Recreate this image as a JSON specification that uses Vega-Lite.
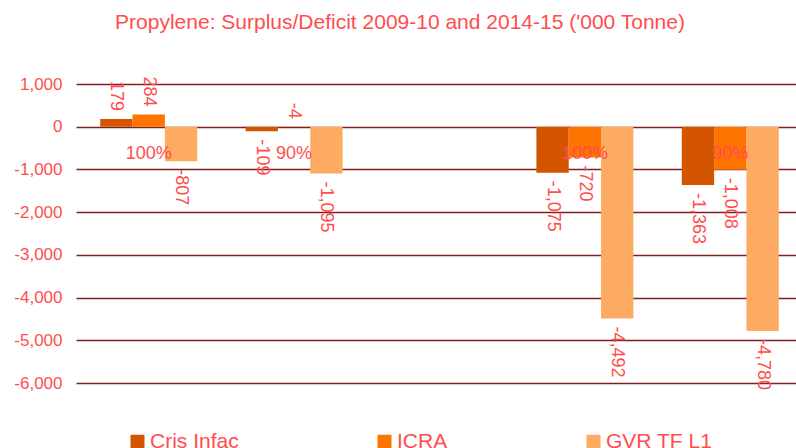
{
  "$schema": "https://vega.github.io/schema/vega-lite/v6.json",
  "width": 720,
  "height": 299,
  "autosize": {"type": "none"},
  "padding": {"left": 76, "top": 84, "right": 0, "bottom": 65},
  "background": "white",
  "config": {
    "view": {"stroke": null},
    "font": "Liberation Sans",
    "locale": {"number": {"decimal": ".", "thousands": ",", "grouping": [3], "currency": ["$", ""], "minus": "-"}}
  },
  "title": {
    "text": "Propylene: Surplus/Deficit 2009-10 and 2014-15 ('000 Tonne)",
    "fontSize": 21,
    "font": "Liberation Sans",
    "fontWeight": "normal",
    "color": "#FF4D4D",
    "anchor": "middle",
    "dx": -36,
    "offset": 42
  },
  "data": {
    "values": [
      {"cat": "2009-10 100%", "source": "Cris Infac", "value": 179},
      {"cat": "2009-10 100%", "source": "ICRA", "value": 284},
      {"cat": "2009-10 100%", "source": "GVR TF L1", "value": -807},
      {"cat": "2009-10 90%", "source": "Cris Infac", "value": -109},
      {"cat": "2009-10 90%", "source": "ICRA", "value": -4},
      {"cat": "2009-10 90%", "source": "GVR TF L1", "value": -1095},
      {"cat": "2014-15 100%", "source": "Cris Infac", "value": -1075},
      {"cat": "2014-15 100%", "source": "ICRA", "value": -720},
      {"cat": "2014-15 100%", "source": "GVR TF L1", "value": -4492},
      {"cat": "2014-15 90%", "source": "Cris Infac", "value": -1363},
      {"cat": "2014-15 90%", "source": "ICRA", "value": -1008},
      {"cat": "2014-15 90%", "source": "GVR TF L1", "value": -4780}
    ]
  },
  "encoding": {
    "x": {
      "field": "cat",
      "type": "nominal",
      "scale": {
        "domain": ["2009-10 100%", "2009-10 90%", "gap", "2014-15 100%", "2014-15 90%"],
        "range": [0, 727],
        "paddingInner": 0.333,
        "paddingOuter": 0.1667
      },
      "axis": {
        "title": null,
        "orient": "bottom",
        "offset": -256,
        "domain": false,
        "ticks": false,
        "grid": false,
        "labelAngle": 0,
        "labelPadding": 17,
        "labelFontSize": 18,
        "labelFont": "Liberation Sans",
        "labelColor": "#FF4D4D",
        "zindex": 1,
        "labelExpr": "datum.label == 'gap' ? '' : split(datum.label, ' ')[1]"
      }
    },
    "xOffset": {
      "field": "source",
      "type": "nominal",
      "scale": {"domain": ["Cris Infac", "ICRA", "GVR TF L1"], "paddingInner": 0, "paddingOuter": 0}
    },
    "y": {
      "field": "value",
      "type": "quantitative",
      "scale": {"domain": [-6000, 1000], "nice": false},
      "axis": {
        "title": null,
        "values": [-6000, -5000, -4000, -3000, -2000, -1000, 0, 1000],
        "format": ",.0f",
        "domain": false,
        "ticks": false,
        "labelPadding": 14,
        "labelFontSize": 17,
        "labelFont": "Liberation Sans",
        "labelColor": "#FF4D4D",
        "grid": true,
        "gridColor": "#7F1F22",
        "gridWidth": 1.5,
        "gridOpacity": 1
      }
    }
  },
  "layer": [
    {
      "mark": {"type": "bar"},
      "encoding": {
        "color": {
          "field": "source",
          "type": "nominal",
          "scale": {"domain": ["Cris Infac", "ICRA", "GVR TF L1"], "range": ["#D45500", "#FF7400", "#FDAA63"]},
          "legend": {
            "orient": "none",
            "legendX": 51,
            "legendY": 347,
            "direction": "horizontal",
            "title": null,
            "symbolType": "square",
            "symbolSize": 196,
            "symbolStrokeWidth": 0,
            "symbolOpacity": 1,
            "labelFontSize": 21,
            "labelFont": "Liberation Sans",
            "labelColor": "#FF4D4D",
            "labelOffset": 2,
            "columnPadding": 135
          }
        }
      }
    },
    {
      "transform": [{"filter": "datum.value > -50"}],
      "mark": {"type": "text", "angle": 90, "align": "right", "baseline": "middle", "dx": -8, "fontSize": 18, "font": "Liberation Sans", "color": "#FF4D4D"},
      "encoding": {"text": {"field": "value", "type": "quantitative", "format": ",.0f"}}
    },
    {
      "transform": [{"filter": "datum.value <= -50"}],
      "mark": {"type": "text", "angle": 90, "align": "left", "baseline": "middle", "dx": 8, "fontSize": 18, "font": "Liberation Sans", "color": "#FF4D4D"},
      "encoding": {"text": {"field": "value", "type": "quantitative", "format": ",.0f"}}
    }
  ]
}
